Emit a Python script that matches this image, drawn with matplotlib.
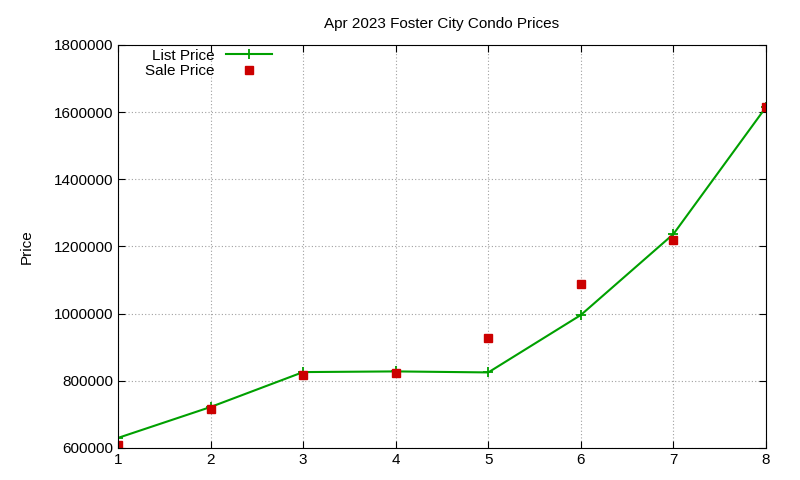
import matplotlib
matplotlib.use("Agg")
import matplotlib.pyplot as plt

x = [1, 2, 3, 4, 5, 6, 7, 8]
list_price = [630000, 722000, 826000, 828000, 825000, 996000, 1237000, 1615000]
sale_price = [609000, 716000, 817000, 824000, 928000, 1088000, 1219000, 1615000]

plt.rcParams['font.family'] = ['Liberation Sans', 'DejaVu Sans']
fig = plt.figure(figsize=(8, 4.8), dpi=100)
ax = fig.add_axes([0.1475, 0.0667, 0.81, 0.8396])
ax.plot(x, list_price, color='#00a000', lw=1.5, marker='+', ms=7, mew=1.3, label='List Price')
ax.plot(x, sale_price, ls='none', marker='s', ms=5.5, color='#cc0000', label='Sale Price')
ax.set_xlim(1, 8)
ax.set_ylim(600000, 1800000)
ax.set_yticks(range(600000, 1800001, 200000))
ax.set_yticklabels([str(v) for v in range(600000, 1800001, 200000)])
ax.grid(True, color='#a0a0a0', ls=(0, (1, 2)), lw=0.8)
ax.tick_params(direction='in', labelsize=11, top=True, right=True, length=5)
ax.set_title('Apr 2023 Foster City Condo Prices', fontsize=11, pad=12)
ax.set_ylabel('Price', fontsize=11)
ax.yaxis.set_label_coords(-0.13, 0.5)
ax.legend(loc='upper left', bbox_to_anchor=(0.02, 1.025), frameon=False, fontsize=11,
          markerfirst=False, handlelength=3, labelspacing=0.1)
fig.savefig('out.png')
